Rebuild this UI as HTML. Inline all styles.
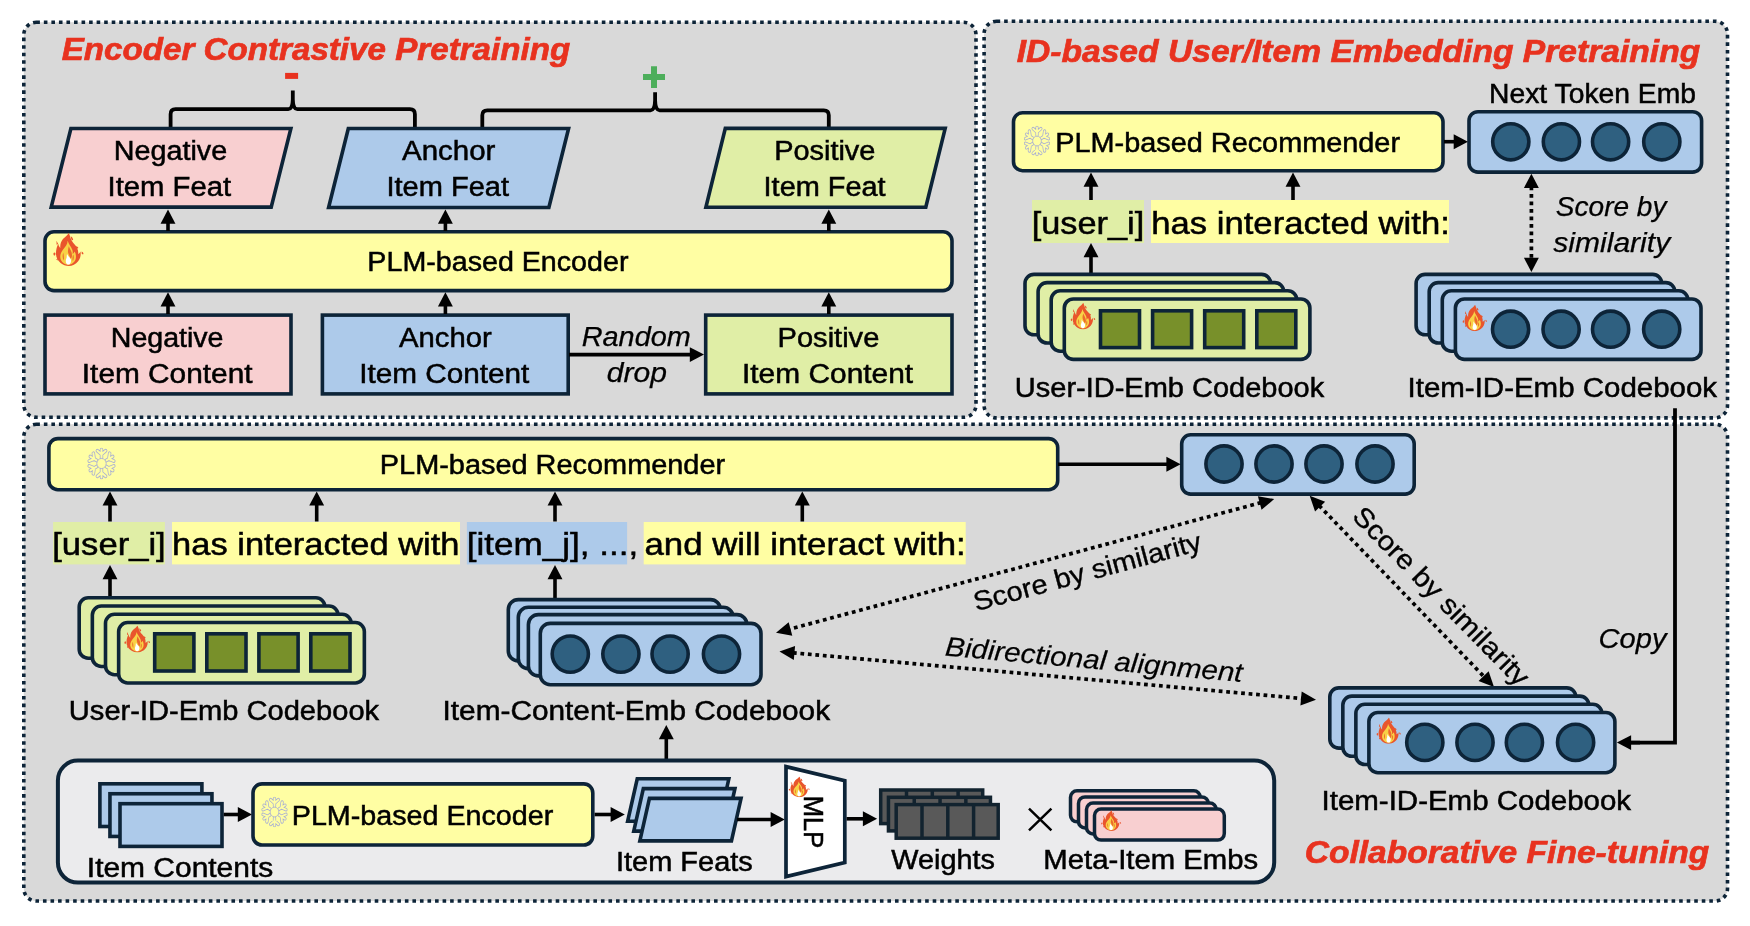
<!DOCTYPE html>
<html><head><meta charset="utf-8"><title>Framework</title>
<style>
html,body{margin:0;padding:0;background:#fff;}
body{width:1750px;height:926px;overflow:hidden;}
svg{display:block;font-family:"Liberation Sans", sans-serif;will-change:transform;opacity:0.9999;-webkit-font-smoothing:antialiased;}
</style></head><body>
<svg width="1750" height="926" viewBox="0 0 1750 926">
<defs>
<symbol id="fire" viewBox="0 0 53 55" preserveAspectRatio="none">
<path d="M27,0 C25,4 21,6 17,10 C13,15 12,20 12.5,25 C10.5,23 9.5,21 9,18 C7,22 5,28 5,34 C5,40 8,46 13,50 C17,53 22,55 27,55 C33,55 39,52 43,47 C47,42 48,36 47,31 C46,33 45,34.5 43,35 C44,29 41,23 37,19 C33,15 29.5,9 29,5 C28.3,3 27.6,1.5 27,0 Z" fill="#e9552c"/>
<path d="M6,13 l2.8,5.5 l-2.6,1 z M1,33.5 q2,-2.5 3.2,0.5 q0,3 -2,4 q-2,-1.5 -1.2,-4.5 z M30.5,5.5 q3,1.5 4,5.5 q-1.2,2 -3,0 q-1,-3 -1,-5.500 z M39,22 q3.500,0 4.500,3.200 q-2.500,2 -4.500,-1.200 z M49,31 q3.200,1 3.200,4.200 q-2.200,1 -3.200,-1.200 z M8,42 l-2.500,2 l2.500,2 z" fill="#e9552c"/>
<path d="M25,13 C27,19 31,23 33,28 C34,31 34,33 33.500,35 C35,34 36,33 37,31 C40,36 40,43 37,47 C34,51 30,53 26,53 C21,53 16,50 13.500,45 C11,39 13,33 17,28 C21,23 25,19 25,13 Z" fill="#f8d146"/>
<path d="M27,22 C29,27 32.500,31 32.500,36.500 C32.500,40 31.500,42 30,43.500 C29,39 27,36.500 26,33.500 C25,30 26,26 27,22 Z M34.500,36 C36,39 36,43 34,47 C33,44 33,40 34.500,36 Z M17.500,33 C16,37 16,42 18.500,46 C19,42 18.500,37 17.500,33 Z" fill="#ec6a2d"/>
<path d="M24,34.500 C25,38 28,40 30,43 C31.500,46 31,49.500 29,51.500 C27.500,52.700 25,52.700 23.500,51.500 C21.500,49.500 21.500,46 22.500,43.500 C23.200,42 23.500,40.500 23.500,39 C23.500,37.500 23.700,36 24,34.500 Z" fill="#ffffff"/>
</symbol>
<g id="arm"><path d="M0,-6 V-13.8 M0,-9 L-4.4,-12.6 M0,-9 L4.4,-12.6"/></g>
<g id="flake" fill="none" stroke-linecap="round" stroke-linejoin="round">
<use href="#arm"/><use href="#arm" transform="rotate(60)"/><use href="#arm" transform="rotate(120)"/><use href="#arm" transform="rotate(180)"/><use href="#arm" transform="rotate(240)"/><use href="#arm" transform="rotate(300)"/>
</g>
<symbol id="snow" viewBox="-16 -16 32 32" preserveAspectRatio="none">
<use href="#flake" stroke="#aab0d2" stroke-width="3.7"/>
<use href="#flake" stroke="#fffea3" stroke-width="2.0"/>
<circle cx="0" cy="0" r="5" fill="#fffea3" stroke="#aab0d2" stroke-width="0.9"/>
</symbol>
</defs>
<rect width="1750" height="926" fill="#fff"/>
<rect x="23.8" y="22.3" width="952.2" height="395.0" rx="12.5" ry="12.5" fill="#d9d9d9" stroke="#0d2438" stroke-width="3.6" stroke-dasharray="3.6 3.94"/>
<rect x="984.1" y="21.3" width="743.4" height="396.59999999999997" rx="12.5" ry="12.5" fill="#d9d9d9" stroke="#0d2438" stroke-width="3.6" stroke-dasharray="3.6 3.94"/>
<rect x="23.8" y="424.3" width="1703.7" height="476.7" rx="12.5" ry="12.5" fill="#d9d9d9" stroke="#0d2438" stroke-width="3.6" stroke-dasharray="3.6 3.94"/>
<text x="61.67" y="60" font-size="32" font-weight="bold" font-style="italic" fill="#e8321f" stroke="#e8321f" stroke-width="0.7" textLength="508.57" lengthAdjust="spacingAndGlyphs">Encoder Contrastive Pretraining</text>
<path d="M170.6,127 V114.2 Q170.6,109.2 175.6,109.2 H288.3 Q292.5,109.2 292.8,99.2 V90.5 M414.9,127 V114.2 Q414.9,109.2 409.9,109.2 H297.3 Q293.1,109.2 292.8,99.2 V90.5" fill="none" stroke="#000" stroke-width="3.8" stroke-linejoin="round"/>
<path d="M482.3,127 V115.3 Q482.3,110.3 487.3,110.3 H650.6 Q654.8000000000001,110.3 655.1,100.3 V92.2 M828.8,127 V115.3 Q828.8,110.3 823.8,110.3 H659.6 Q655.4,110.3 655.1,100.3 V92.2" fill="none" stroke="#000" stroke-width="3.8" stroke-linejoin="round"/>
<rect x="285.1" y="72.9" width="13" height="6" fill="#e8321f"/>
<path d="M643,77 H665 M654,66.2 V87.9" stroke="#4dae5b" stroke-width="6" fill="none"/>
<polygon points="70.90,128.50 290.89,128.50 271.20,207.10 51.21,207.10" fill="#f8cfd0" stroke="#0d2438" stroke-width="3.6" stroke-linejoin="miter"/>
<polygon points="348.31,128.50 568.60,128.50 548.89,207.50 328.60,207.50" fill="#adcaea" stroke="#0d2438" stroke-width="3.6" stroke-linejoin="miter"/>
<polygon points="725.31,128.40 945.20,128.40 925.79,207.20 705.90,207.20" fill="#e0eea6" stroke="#0d2438" stroke-width="3.6" stroke-linejoin="miter"/>
<text x="113.77" y="160" font-size="27" font-weight="normal" font-style="normal" fill="#000" stroke="#000" stroke-width="0.5" textLength="113.36" lengthAdjust="spacingAndGlyphs">Negative</text>
<text x="107.55" y="196" font-size="27" font-weight="normal" font-style="normal" fill="#000" stroke="#000" stroke-width="0.5" textLength="123.55" lengthAdjust="spacingAndGlyphs">Item Feat</text>
<text x="402.06" y="160" font-size="27" font-weight="normal" font-style="normal" fill="#000" stroke="#000" stroke-width="0.5" textLength="93.38" lengthAdjust="spacingAndGlyphs">Anchor</text>
<text x="386.50" y="196" font-size="27" font-weight="normal" font-style="normal" fill="#000" stroke="#000" stroke-width="0.5" textLength="122.53" lengthAdjust="spacingAndGlyphs">Item Feat</text>
<text x="774.17" y="159.6" font-size="27" font-weight="normal" font-style="normal" fill="#000" stroke="#000" stroke-width="0.5" textLength="101.26" lengthAdjust="spacingAndGlyphs">Positive</text>
<text x="763.60" y="195.8" font-size="27" font-weight="normal" font-style="normal" fill="#000" stroke="#000" stroke-width="0.5" textLength="122.05" lengthAdjust="spacingAndGlyphs">Item Feat</text>
<rect x="45.00" y="231.80" width="907.00" height="58.80" rx="9" ry="9" fill="#fffea3" stroke="#0d2438" stroke-width="3.6" />
<text x="367.39" y="270.8" font-size="27" font-weight="normal" font-style="normal" fill="#000" stroke="#000" stroke-width="0.5" textLength="261.05" lengthAdjust="spacingAndGlyphs">PLM-based Encoder</text>
<use href="#fire" x="53" y="233" width="31" height="33"/>
<rect x="45.00" y="315.10" width="246.00" height="78.80" rx="0" ry="0" fill="#f8cfd0" stroke="#0d2438" stroke-width="3.6" />
<rect x="322.40" y="315.10" width="245.80" height="78.80" rx="0" ry="0" fill="#adcaea" stroke="#0d2438" stroke-width="3.6" />
<rect x="705.70" y="315.10" width="246.30" height="78.80" rx="0" ry="0" fill="#e0eea6" stroke="#0d2438" stroke-width="3.6" />
<text x="110.78" y="346.8" font-size="27" font-weight="normal" font-style="normal" fill="#000" stroke="#000" stroke-width="0.5" textLength="112.68" lengthAdjust="spacingAndGlyphs">Negative</text>
<text x="81.84" y="383.2" font-size="27" font-weight="normal" font-style="normal" fill="#000" stroke="#000" stroke-width="0.5" textLength="170.66" lengthAdjust="spacingAndGlyphs">Item Content</text>
<text x="399.06" y="346.8" font-size="27" font-weight="normal" font-style="normal" fill="#000" stroke="#000" stroke-width="0.5" textLength="92.65" lengthAdjust="spacingAndGlyphs">Anchor</text>
<text x="359.23" y="383.2" font-size="27" font-weight="normal" font-style="normal" fill="#000" stroke="#000" stroke-width="0.5" textLength="170.11" lengthAdjust="spacingAndGlyphs">Item Content</text>
<text x="777.55" y="346.8" font-size="27" font-weight="normal" font-style="normal" fill="#000" stroke="#000" stroke-width="0.5" textLength="101.77" lengthAdjust="spacingAndGlyphs">Positive</text>
<text x="742.03" y="383.2" font-size="27" font-weight="normal" font-style="normal" fill="#000" stroke="#000" stroke-width="0.5" textLength="171.09" lengthAdjust="spacingAndGlyphs">Item Content</text>
<text x="581.68" y="346" font-size="27" font-weight="normal" font-style="italic" fill="#000" stroke="#000" stroke-width="0.25" textLength="109.12" lengthAdjust="spacingAndGlyphs">Random</text>
<text x="606.86" y="382" font-size="27" font-weight="normal" font-style="italic" fill="#000" stroke="#000" stroke-width="0.25" textLength="60.20" lengthAdjust="spacingAndGlyphs">drop</text>
<line x1="569.00" y1="354.60" x2="691.22" y2="354.60" stroke="#000" stroke-width="3.6"/>
<polygon points="704.00,354.60 689.80,362.05 689.80,347.15" fill="#000"/>
<line x1="168.00" y1="314.00" x2="168.00" y2="304.98" stroke="#000" stroke-width="3.6"/>
<polygon points="168.00,292.20 175.45,306.40 160.55,306.40" fill="#000"/>
<line x1="168.00" y1="231.00" x2="168.00" y2="222.28" stroke="#000" stroke-width="3.6"/>
<polygon points="168.00,209.50 175.45,223.70 160.55,223.70" fill="#000"/>
<line x1="445.40" y1="314.00" x2="445.40" y2="304.98" stroke="#000" stroke-width="3.6"/>
<polygon points="445.40,292.20 452.85,306.40 437.95,306.40" fill="#000"/>
<line x1="445.40" y1="231.00" x2="445.40" y2="222.28" stroke="#000" stroke-width="3.6"/>
<polygon points="445.40,209.50 452.85,223.70 437.95,223.70" fill="#000"/>
<line x1="828.80" y1="314.00" x2="828.80" y2="304.98" stroke="#000" stroke-width="3.6"/>
<polygon points="828.80,292.20 836.25,306.40 821.35,306.40" fill="#000"/>
<line x1="828.80" y1="231.00" x2="828.80" y2="222.28" stroke="#000" stroke-width="3.6"/>
<polygon points="828.80,209.50 836.25,223.70 821.35,223.70" fill="#000"/>
<text x="1016.66" y="62" font-size="32" font-weight="bold" font-style="italic" fill="#e8321f" stroke="#e8321f" stroke-width="0.7" textLength="683.55" lengthAdjust="spacingAndGlyphs">ID-based User/Item Embedding Pretraining</text>
<text x="1489.11" y="102.9" font-size="27" font-weight="normal" font-style="normal" fill="#000" stroke="#000" stroke-width="0.5" textLength="206.86" lengthAdjust="spacingAndGlyphs">Next Token Emb</text>
<rect x="1013.50" y="112.80" width="429.50" height="57.90" rx="9" ry="9" fill="#fffea3" stroke="#0d2438" stroke-width="3.6" />
<use href="#snow" x="1023" y="125.4" width="28" height="31.2"/>
<text x="1055.29" y="152" font-size="27" font-weight="normal" font-style="normal" fill="#000" stroke="#000" stroke-width="0.5" textLength="344.73" lengthAdjust="spacingAndGlyphs">PLM-based Recommender</text>
<rect x="1469.00" y="111.70" width="232.60" height="60.40" rx="9" ry="9" fill="#adcaea" stroke="#0d2438" stroke-width="3.6" />
<circle cx="1510.8" cy="141.8" r="18.1" fill="#2f6080" stroke="#0d2438" stroke-width="3.6"/>
<circle cx="1561.4" cy="141.8" r="18.1" fill="#2f6080" stroke="#0d2438" stroke-width="3.6"/>
<circle cx="1610.6" cy="141.8" r="18.1" fill="#2f6080" stroke="#0d2438" stroke-width="3.6"/>
<circle cx="1661.8" cy="141.8" r="18.1" fill="#2f6080" stroke="#0d2438" stroke-width="3.6"/>
<line x1="1444.00" y1="141.70" x2="1455.12" y2="141.70" stroke="#000" stroke-width="3.6"/>
<polygon points="1467.90,141.70 1453.70,149.15 1453.70,134.25" fill="#000"/>
<line x1="1091.00" y1="201.00" x2="1091.00" y2="185.28" stroke="#000" stroke-width="3.6"/>
<polygon points="1091.00,172.50 1098.45,186.70 1083.55,186.70" fill="#000"/>
<line x1="1293.00" y1="201.00" x2="1293.00" y2="185.28" stroke="#000" stroke-width="3.6"/>
<polygon points="1293.00,172.50 1300.45,186.70 1285.55,186.70" fill="#000"/>
<rect x="1032" y="200" width="112" height="43" fill="#e0eea6"/>
<rect x="1151" y="200" width="298" height="43" fill="#fffea3"/>
<text x="1031.72" y="234" font-size="30.5" font-weight="normal" font-style="normal" fill="#000" stroke="#000" stroke-width="0.5" textLength="112.55" lengthAdjust="spacingAndGlyphs">[user_i]</text>
<text x="1151.27" y="234" font-size="30.5" font-weight="normal" font-style="normal" fill="#000" stroke="#000" stroke-width="0.5" textLength="298.55" lengthAdjust="spacingAndGlyphs">has interacted with:</text>
<line x1="1091.00" y1="275.00" x2="1091.00" y2="255.78" stroke="#000" stroke-width="3.6"/>
<polygon points="1091.00,243.00 1098.45,257.20 1083.55,257.20" fill="#000"/>
<rect x="1025.00" y="274.40" width="245.60" height="60.40" rx="9" ry="9" fill="#e0eea6" stroke="#0d2438" stroke-width="3.6" />
<rect x="1038.10" y="282.60" width="245.60" height="60.40" rx="9" ry="9" fill="#e0eea6" stroke="#0d2438" stroke-width="3.6" />
<rect x="1051.20" y="290.80" width="245.60" height="60.40" rx="9" ry="9" fill="#e0eea6" stroke="#0d2438" stroke-width="3.6" />
<rect x="1064.30" y="299.00" width="245.60" height="60.40" rx="9" ry="9" fill="#e0eea6" stroke="#0d2438" stroke-width="3.6" />
<rect x="1100.5" y="310.8" width="39" height="36.80" fill="#78902a" stroke="#0d2438" stroke-width="3.6"/>
<rect x="1152.6" y="310.8" width="39" height="36.80" fill="#78902a" stroke="#0d2438" stroke-width="3.6"/>
<rect x="1204.7" y="310.8" width="39" height="36.80" fill="#78902a" stroke="#0d2438" stroke-width="3.6"/>
<rect x="1256.8" y="310.8" width="39" height="36.80" fill="#78902a" stroke="#0d2438" stroke-width="3.6"/>
<use href="#fire" x="1070.3" y="302.8" width="25.4" height="26.6"/>
<text x="1014.86" y="397" font-size="27" font-weight="normal" font-style="normal" fill="#000" stroke="#000" stroke-width="0.5" textLength="309.28" lengthAdjust="spacingAndGlyphs">User-ID-Emb Codebook</text>
<line x1="1531.40" y1="186.48" x2="1531.40" y2="259.22" stroke="#000" stroke-width="3.7" stroke-dasharray="3.75 3.75"/>
<polygon points="1531.40,272.00 1523.95,257.80 1538.85,257.80" fill="#000"/>
<polygon points="1531.40,173.70 1538.85,187.90 1523.95,187.90" fill="#000"/>
<text x="1555.89" y="215.5" font-size="27" font-weight="normal" font-style="italic" fill="#000" stroke="#000" stroke-width="0.25" textLength="110.58" lengthAdjust="spacingAndGlyphs">Score by</text>
<text x="1553.29" y="251.8" font-size="27" font-weight="normal" font-style="italic" fill="#000" stroke="#000" stroke-width="0.25" textLength="116.90" lengthAdjust="spacingAndGlyphs">similarity</text>
<rect x="1416.10" y="274.40" width="245.60" height="60.40" rx="9" ry="9" fill="#adcaea" stroke="#0d2438" stroke-width="3.6" />
<rect x="1429.20" y="282.60" width="245.60" height="60.40" rx="9" ry="9" fill="#adcaea" stroke="#0d2438" stroke-width="3.6" />
<rect x="1442.30" y="290.80" width="245.60" height="60.40" rx="9" ry="9" fill="#adcaea" stroke="#0d2438" stroke-width="3.6" />
<rect x="1455.40" y="299.00" width="245.60" height="60.40" rx="9" ry="9" fill="#adcaea" stroke="#0d2438" stroke-width="3.6" />
<circle cx="1510.6" cy="329.2" r="18.1" fill="#2f6080" stroke="#0d2438" stroke-width="3.6"/>
<circle cx="1561.1" cy="329.2" r="18.1" fill="#2f6080" stroke="#0d2438" stroke-width="3.6"/>
<circle cx="1610.6" cy="329.2" r="18.1" fill="#2f6080" stroke="#0d2438" stroke-width="3.6"/>
<circle cx="1661.7" cy="329.2" r="18.1" fill="#2f6080" stroke="#0d2438" stroke-width="3.6"/>
<use href="#fire" x="1462.2" y="304.8" width="25.2" height="26.4"/>
<text x="1407.56" y="397" font-size="27" font-weight="normal" font-style="normal" fill="#000" stroke="#000" stroke-width="0.5" textLength="309.51" lengthAdjust="spacingAndGlyphs">Item-ID-Emb Codebook</text>
<path d="M1675,408.3 V742.6 H1628" fill="none" stroke="#000" stroke-width="3.8"/>
<line x1="1640.00" y1="742.60" x2="1629.68" y2="742.60" stroke="#000" stroke-width="3.6"/>
<polygon points="1616.90,742.60 1631.10,735.15 1631.10,750.05" fill="#000"/>
<text x="1598.50" y="648" font-size="27" font-weight="normal" font-style="italic" fill="#000" stroke="#000" stroke-width="0.25" textLength="67.93" lengthAdjust="spacingAndGlyphs">Copy</text>
<rect x="48.90" y="438.60" width="1008.80" height="51.10" rx="9" ry="9" fill="#fffea3" stroke="#0d2438" stroke-width="3.6" />
<use href="#snow" x="86.5" y="447.3" width="30" height="32.4"/>
<text x="379.79" y="474.3" font-size="27" font-weight="normal" font-style="normal" fill="#000" stroke="#000" stroke-width="0.5" textLength="345.37" lengthAdjust="spacingAndGlyphs">PLM-based Recommender</text>
<rect x="1181.70" y="434.80" width="232.50" height="59.30" rx="9" ry="9" fill="#adcaea" stroke="#0d2438" stroke-width="3.6" />
<circle cx="1224" cy="464" r="18.1" fill="#2f6080" stroke="#0d2438" stroke-width="3.6"/>
<circle cx="1274" cy="464" r="18.1" fill="#2f6080" stroke="#0d2438" stroke-width="3.6"/>
<circle cx="1324" cy="464" r="18.1" fill="#2f6080" stroke="#0d2438" stroke-width="3.6"/>
<circle cx="1375" cy="464" r="18.1" fill="#2f6080" stroke="#0d2438" stroke-width="3.6"/>
<line x1="1058.00" y1="464.30" x2="1167.82" y2="464.30" stroke="#000" stroke-width="3.6"/>
<polygon points="1180.60,464.30 1166.40,471.75 1166.40,456.85" fill="#000"/>
<line x1="110.00" y1="521.50" x2="110.00" y2="504.18" stroke="#000" stroke-width="3.6"/>
<polygon points="110.00,491.40 117.45,505.60 102.55,505.60" fill="#000"/>
<line x1="316.70" y1="521.50" x2="316.70" y2="504.18" stroke="#000" stroke-width="3.6"/>
<polygon points="316.70,491.40 324.15,505.60 309.25,505.60" fill="#000"/>
<line x1="555.00" y1="521.50" x2="555.00" y2="504.18" stroke="#000" stroke-width="3.6"/>
<polygon points="555.00,491.40 562.45,505.60 547.55,505.60" fill="#000"/>
<line x1="802.30" y1="521.50" x2="802.30" y2="504.18" stroke="#000" stroke-width="3.6"/>
<polygon points="802.30,491.40 809.75,505.60 794.85,505.60" fill="#000"/>
<rect x="53.1" y="522" width="111.8" height="42.4" fill="#e0eea6"/>
<rect x="172" y="522" width="288" height="42.4" fill="#fffea3"/>
<rect x="466.9" y="522" width="160.2" height="42.4" fill="#adcaea"/>
<rect x="643.7" y="522" width="322" height="42.4" fill="#fffea3"/>
<text x="52.21" y="555.3" font-size="30.5" font-weight="normal" font-style="normal" fill="#000" stroke="#000" stroke-width="0.5" textLength="113.53" lengthAdjust="spacingAndGlyphs">[user_i]</text>
<text x="172.08" y="555.3" font-size="30.5" font-weight="normal" font-style="normal" fill="#000" stroke="#000" stroke-width="0.5" textLength="287.45" lengthAdjust="spacingAndGlyphs">has interacted with</text>
<text x="466.71" y="555.3" font-size="30.5" font-weight="normal" font-style="normal" fill="#000" stroke="#000" stroke-width="0.5" textLength="171.48" lengthAdjust="spacingAndGlyphs">[item_j], ...,</text>
<text x="644.41" y="555.3" font-size="30.5" font-weight="normal" font-style="normal" fill="#000" stroke="#000" stroke-width="0.5" textLength="321.35" lengthAdjust="spacingAndGlyphs">and will interact with:</text>
<line x1="110.00" y1="598.00" x2="110.00" y2="577.78" stroke="#000" stroke-width="3.6"/>
<polygon points="110.00,565.00 117.45,579.20 102.55,579.20" fill="#000"/>
<line x1="555.00" y1="599.00" x2="555.00" y2="577.78" stroke="#000" stroke-width="3.6"/>
<polygon points="555.00,565.00 562.45,579.20 547.55,579.20" fill="#000"/>
<rect x="79.20" y="597.80" width="245.70" height="60.40" rx="9" ry="9" fill="#e0eea6" stroke="#0d2438" stroke-width="3.6" />
<rect x="92.35" y="606.05" width="245.70" height="60.40" rx="9" ry="9" fill="#e0eea6" stroke="#0d2438" stroke-width="3.6" />
<rect x="105.50" y="614.30" width="245.70" height="60.40" rx="9" ry="9" fill="#e0eea6" stroke="#0d2438" stroke-width="3.6" />
<rect x="118.65" y="622.55" width="245.70" height="60.40" rx="9" ry="9" fill="#e0eea6" stroke="#0d2438" stroke-width="3.6" />
<rect x="154.7" y="633.8" width="39.2" height="37.20" fill="#78902a" stroke="#0d2438" stroke-width="3.6"/>
<rect x="206.8" y="633.8" width="39.2" height="37.20" fill="#78902a" stroke="#0d2438" stroke-width="3.6"/>
<rect x="258.9" y="633.8" width="39.2" height="37.20" fill="#78902a" stroke="#0d2438" stroke-width="3.6"/>
<rect x="310.8" y="633.8" width="39.2" height="37.20" fill="#78902a" stroke="#0d2438" stroke-width="3.6"/>
<use href="#fire" x="124" y="625.6" width="26.5" height="26.8"/>
<text x="68.85" y="720" font-size="27" font-weight="normal" font-style="normal" fill="#000" stroke="#000" stroke-width="0.5" textLength="310.26" lengthAdjust="spacingAndGlyphs">User-ID-Emb Codebook</text>
<rect x="508.30" y="599.60" width="212.10" height="61.30" rx="10" ry="10" fill="#adcaea" stroke="#0d2438" stroke-width="3.6" />
<rect x="518.30" y="607.30" width="214.90" height="61.30" rx="10" ry="10" fill="#adcaea" stroke="#0d2438" stroke-width="3.6" />
<rect x="528.40" y="614.60" width="218.50" height="61.30" rx="10" ry="10" fill="#adcaea" stroke="#0d2438" stroke-width="3.6" />
<rect x="540.30" y="623.40" width="220.70" height="61.30" rx="10" ry="10" fill="#adcaea" stroke="#0d2438" stroke-width="3.6" />
<circle cx="570.3" cy="654.1" r="18.1" fill="#2f6080" stroke="#0d2438" stroke-width="3.6"/>
<circle cx="620.9" cy="654.1" r="18.1" fill="#2f6080" stroke="#0d2438" stroke-width="3.6"/>
<circle cx="670.1" cy="654.1" r="18.1" fill="#2f6080" stroke="#0d2438" stroke-width="3.6"/>
<circle cx="721.5" cy="654.1" r="18.1" fill="#2f6080" stroke="#0d2438" stroke-width="3.6"/>
<text x="442.54" y="720" font-size="27" font-weight="normal" font-style="normal" fill="#000" stroke="#000" stroke-width="0.5" textLength="387.54" lengthAdjust="spacingAndGlyphs">Item-Content-Emb Codebook</text>
<line x1="666.30" y1="761.00" x2="666.30" y2="737.78" stroke="#000" stroke-width="3.6"/>
<polygon points="666.30,725.00 673.75,739.20 658.85,739.20" fill="#000"/>
<line x1="1261.16" y1="502.60" x2="789.04" y2="629.30" stroke="#000" stroke-width="3.7" stroke-dasharray="3.75 3.75"/>
<polygon points="776.00,632.80 788.67,622.15 792.30,635.67" fill="#000"/>
<polygon points="1274.20,499.10 1261.53,509.75 1257.90,496.23" fill="#000"/>
<line x1="792.95" y1="652.81" x2="1302.55" y2="698.59" stroke="#000" stroke-width="3.7" stroke-dasharray="3.75 3.75"/>
<polygon points="1316.00,699.80 1300.43,705.43 1301.69,691.49" fill="#000"/>
<polygon points="779.50,651.60 795.07,645.97 793.81,659.91" fill="#000"/>
<line x1="1319.07" y1="505.52" x2="1484.63" y2="677.28" stroke="#000" stroke-width="3.7" stroke-dasharray="3.75 3.75"/>
<polygon points="1494.00,687.00 1478.55,681.06 1488.63,671.34" fill="#000"/>
<polygon points="1309.70,495.80 1325.15,501.74 1315.07,511.46" fill="#000"/>
<text x="-1.36" y="0" font-size="27" font-weight="normal" font-style="normal" fill="#000" stroke="#000" stroke-width="0.35" textLength="235.12" lengthAdjust="spacingAndGlyphs" transform="translate(977.5 610.9) rotate(-15.2)">Score by similarity</text>
<text x="-1.12" y="0" font-size="27" font-weight="normal" font-style="italic" fill="#000" stroke="#000" stroke-width="0.2" textLength="298.52" lengthAdjust="spacingAndGlyphs" transform="translate(945.6 655.6) rotate(5.1)">Bidirectional alignment</text>
<text x="-1.38" y="0" font-size="27" font-weight="normal" font-style="normal" fill="#000" stroke="#000" stroke-width="0.35" textLength="238.91" lengthAdjust="spacingAndGlyphs" transform="translate(1351.9 518.4) rotate(45.5)">Score by similarity</text>
<rect x="57.90" y="760.60" width="1216.30" height="122.00" rx="20" ry="20" fill="#ebebed" stroke="#0d2438" stroke-width="4" />
<rect x="99.90" y="783.80" width="102.00" height="42.70" rx="0" ry="0" fill="#adcaea" stroke="#0d2438" stroke-width="3.6" />
<rect x="109.95" y="793.75" width="102.00" height="42.70" rx="0" ry="0" fill="#adcaea" stroke="#0d2438" stroke-width="3.6" />
<rect x="120.00" y="803.70" width="102.00" height="42.70" rx="0" ry="0" fill="#adcaea" stroke="#0d2438" stroke-width="3.6" />
<line x1="223.70" y1="814.50" x2="239.22" y2="814.50" stroke="#000" stroke-width="3.6"/>
<polygon points="252.00,814.50 237.80,821.95 237.80,807.05" fill="#000"/>
<rect x="253.00" y="783.90" width="339.80" height="61.10" rx="9" ry="9" fill="#fffea3" stroke="#0d2438" stroke-width="3.6" />
<use href="#snow" x="260.5" y="796.4" width="28" height="31.2"/>
<text x="291.80" y="824.8" font-size="27" font-weight="normal" font-style="normal" fill="#000" stroke="#000" stroke-width="0.5" textLength="261.41" lengthAdjust="spacingAndGlyphs">PLM-based Encoder</text>
<line x1="594.60" y1="814.50" x2="612.02" y2="814.50" stroke="#000" stroke-width="3.6"/>
<polygon points="624.80,814.50 610.60,821.95 610.60,807.05" fill="#000"/>
<polygon points="637.24,778.80 728.85,778.80 719.26,821.30 627.65,821.30" fill="#adcaea" stroke="#0d2438" stroke-width="3.6" stroke-linejoin="miter"/>
<polygon points="643.34,788.60 734.95,788.60 725.36,831.10 633.75,831.10" fill="#adcaea" stroke="#0d2438" stroke-width="3.6" stroke-linejoin="miter"/>
<polygon points="649.44,798.40 741.05,798.40 731.46,840.90 639.85,840.90" fill="#adcaea" stroke="#0d2438" stroke-width="3.6" stroke-linejoin="miter"/>
<line x1="737.00" y1="819.50" x2="772.02" y2="819.50" stroke="#000" stroke-width="3.6"/>
<polygon points="784.80,819.50 770.60,826.95 770.60,812.05" fill="#000"/>
<polygon points="786.00,766.60 844.80,780.70 844.80,862.50 786.00,876.60" fill="#ffffff" stroke="#0d2438" stroke-width="3.7" stroke-linejoin="miter"/>
<use href="#fire" x="788.4" y="776.5" width="21.6" height="20.7"/>
<text x="-2.21" y="0" font-size="27" font-weight="normal" font-style="normal" fill="#000" stroke="#000" stroke-width="0.5" textLength="52.51" lengthAdjust="spacingAndGlyphs" transform="translate(803.6 797.9) rotate(90)">MLP</text>
<line x1="846.60" y1="818.80" x2="864.32" y2="818.80" stroke="#000" stroke-width="3.6"/>
<polygon points="877.10,818.80 862.90,826.25 862.90,811.35" fill="#000"/>
<rect x="880.70" y="790.00" width="102" height="33.6" fill="#595959" stroke="#12232f" stroke-width="3.5"/>
<line x1="906.50" y1="790.00" x2="906.50" y2="823.60" stroke="#12232f" stroke-width="3.5"/>
<line x1="932.30" y1="790.00" x2="932.30" y2="823.60" stroke="#12232f" stroke-width="3.5"/>
<line x1="958.10" y1="790.00" x2="958.10" y2="823.60" stroke="#12232f" stroke-width="3.5"/>
<rect x="888.45" y="797.30" width="102" height="33.6" fill="#595959" stroke="#12232f" stroke-width="3.5"/>
<line x1="914.25" y1="797.30" x2="914.25" y2="830.90" stroke="#12232f" stroke-width="3.5"/>
<line x1="940.05" y1="797.30" x2="940.05" y2="830.90" stroke="#12232f" stroke-width="3.5"/>
<line x1="965.85" y1="797.30" x2="965.85" y2="830.90" stroke="#12232f" stroke-width="3.5"/>
<rect x="896.20" y="804.60" width="102" height="33.6" fill="#595959" stroke="#12232f" stroke-width="3.5"/>
<line x1="922.00" y1="804.60" x2="922.00" y2="838.20" stroke="#12232f" stroke-width="3.5"/>
<line x1="947.80" y1="804.60" x2="947.80" y2="838.20" stroke="#12232f" stroke-width="3.5"/>
<line x1="973.60" y1="804.60" x2="973.60" y2="838.20" stroke="#12232f" stroke-width="3.5"/>
<path d="M1029,808.6 L1051.4,830.4 M1051.4,808.6 L1029,830.4" stroke="#000" stroke-width="2.5" fill="none"/>
<rect x="1070.50" y="790.80" width="129.80" height="31.00" rx="6.5" ry="6.5" fill="#f8cfd0" stroke="#0d2438" stroke-width="3.5" />
<rect x="1078.50" y="796.90" width="129.80" height="31.00" rx="6.5" ry="6.5" fill="#f8cfd0" stroke="#0d2438" stroke-width="3.5" />
<rect x="1086.50" y="803.00" width="129.80" height="31.00" rx="6.5" ry="6.5" fill="#f8cfd0" stroke="#0d2438" stroke-width="3.5" />
<rect x="1094.50" y="809.10" width="129.80" height="31.00" rx="6.5" ry="6.5" fill="#f8cfd0" stroke="#0d2438" stroke-width="3.5" />
<use href="#fire" x="1100.9" y="810.3" width="20.6" height="20.7"/>
<text x="86.82" y="877.4" font-size="27" font-weight="normal" font-style="normal" fill="#000" stroke="#000" stroke-width="0.5" textLength="186.39" lengthAdjust="spacingAndGlyphs">Item Contents</text>
<text x="616.00" y="870.9" font-size="27" font-weight="normal" font-style="normal" fill="#000" stroke="#000" stroke-width="0.5" textLength="136.78" lengthAdjust="spacingAndGlyphs">Item Feats</text>
<text x="891.25" y="868.8" font-size="27" font-weight="normal" font-style="normal" fill="#000" stroke="#000" stroke-width="0.5" textLength="103.62" lengthAdjust="spacingAndGlyphs">Weights</text>
<text x="1043.37" y="868.8" font-size="27" font-weight="normal" font-style="normal" fill="#000" stroke="#000" stroke-width="0.5" textLength="214.84" lengthAdjust="spacingAndGlyphs">Meta-Item Embs</text>
<rect x="1329.80" y="687.90" width="246.00" height="60.20" rx="9" ry="9" fill="#adcaea" stroke="#0d2438" stroke-width="3.6" />
<rect x="1342.83" y="696.10" width="246.00" height="60.20" rx="9" ry="9" fill="#adcaea" stroke="#0d2438" stroke-width="3.6" />
<rect x="1355.86" y="704.30" width="246.00" height="60.20" rx="9" ry="9" fill="#adcaea" stroke="#0d2438" stroke-width="3.6" />
<rect x="1368.89" y="712.50" width="246.00" height="60.20" rx="9" ry="9" fill="#adcaea" stroke="#0d2438" stroke-width="3.6" />
<circle cx="1424.8" cy="742.4" r="18.1" fill="#2f6080" stroke="#0d2438" stroke-width="3.6"/>
<circle cx="1475" cy="742.4" r="18.1" fill="#2f6080" stroke="#0d2438" stroke-width="3.6"/>
<circle cx="1524.4" cy="742.4" r="18.1" fill="#2f6080" stroke="#0d2438" stroke-width="3.6"/>
<circle cx="1575.6" cy="742.4" r="18.1" fill="#2f6080" stroke="#0d2438" stroke-width="3.6"/>
<use href="#fire" x="1376.2" y="717.6" width="25" height="26.2"/>
<text x="1321.56" y="810" font-size="27" font-weight="normal" font-style="normal" fill="#000" stroke="#000" stroke-width="0.5" textLength="309.51" lengthAdjust="spacingAndGlyphs">Item-ID-Emb Codebook</text>
<text x="1304.67" y="863" font-size="32" font-weight="bold" font-style="italic" fill="#e8321f" stroke="#e8321f" stroke-width="0.7" textLength="404.61" lengthAdjust="spacingAndGlyphs">Collaborative Fine-tuning</text>
</svg>
</body></html>
